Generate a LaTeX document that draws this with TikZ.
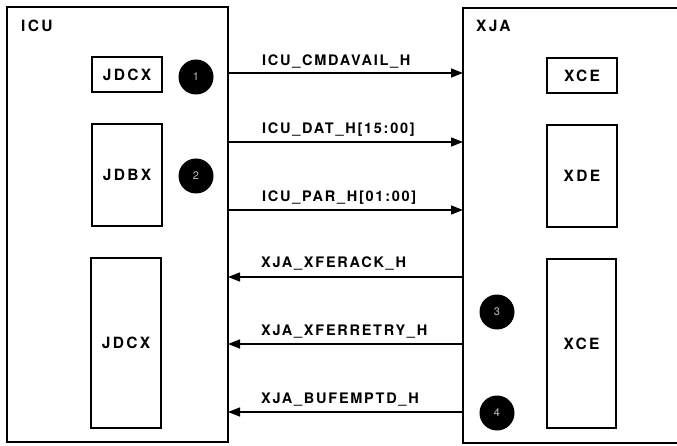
\documentclass[tikz,border=0pt]{standalone}
\usepackage{fontspec}
\setmainfont{TeX Gyre Heros}
\newfontfamily\siglbl{TeX Gyre Heros}[LetterSpace=12]
\newfontfamily\boxlbl{TeX Gyre Heros}[LetterSpace=15]
\usetikzlibrary{arrows.meta}
\begin{document}
\begin{tikzpicture}[x=1pt,y=-1pt,
  outerbox/.style={draw,line width=2.4pt,rectangle,inner sep=0pt,outer sep=0pt},
  innerbox/.style={draw,line width=1.9pt,rectangle,inner sep=0pt,outer sep=0pt,minimum width=70pt,
    font=\boxlbl\bfseries\fontsize{15.5}{16}\selectfont},
  title/.style={anchor=base west,inner sep=0pt,font=\boxlbl\bfseries\fontsize{15.5}{16}\selectfont},
  dot/.style={circle,fill=black,minimum size=35pt,inner sep=0pt,text=white!75!black,
    font=\fontsize{11}{12}\selectfont},
  sig/.style={line width=1.4pt,-{Triangle[length=12pt,width=9pt]}},
  siglabel/.style={anchor=base west,inner sep=0pt,font=\siglbl\bfseries\fontsize{14.5}{15}\selectfont}]
\useasboundingbox (0,0) rectangle (677,446);
\clip (0,0) rectangle (677,446);
\fill[white] (0,0) rectangle (677,446);
% outer boxes
\node[outerbox,minimum width=221pt,minimum height=435pt] (icu) at (117.5,224.5) {};
\node[outerbox,minimum width=250pt,minimum height=435pt] (xja) at (588,225.5) {};
\node[title] (icut) at (21,32) {ICU};
\node[title] (xjat) at (476,32) {XJA};
% ICU inner
\node[innerbox,minimum height=35pt] (jdcxa) at (127,74.5) {JDCX};
\node[innerbox,minimum height=102pt] (jdbx) at (127,175) {JDBX};
\node[innerbox,minimum height=170pt] (jdcxb) at (126,343) {JDCX};
% XJA inner
\node[innerbox,minimum height=35pt] (xcea) at (582,75.5) {XCE};
\node[innerbox,minimum height=102pt] (xde) at (582,176) {XDE};
\node[innerbox,minimum height=169pt,minimum width=69pt] (xceb) at (581.5,343.5) {XCE};
% dots
\node[dot] (d1) at (196,77) {1};
\node[dot] (d2) at (196,176) {2};
\node[dot] (d3) at (497,312) {3};
\node[dot] (d4) at (497,413) {4};
% signal rows
\coordinate (r1) at (0,73);
\coordinate (r2) at (0,142);
\coordinate (r3) at (0,210);
\coordinate (r4) at (0,277);
\coordinate (r5) at (0,344);
\coordinate (r6) at (0,412);
\draw[sig] (icu.east |- r1) -- (xja.west |- r1);
\draw[sig] (icu.east |- r2) -- (xja.west |- r2);
\draw[sig] (icu.east |- r3) -- (xja.west |- r3);
\draw[sig] (xja.west |- r4) -- (icu.east |- r4);
\draw[sig] (xja.west |- r5) -- (icu.east |- r5);
\draw[sig] (xja.west |- r6) -- (icu.east |- r6);
\node[siglabel] (l1) at (262,66) {ICU\_CMDAVAIL\_H};
\node[siglabel] (l2) at (262,134) {ICU\_DAT\_H[15:00]};
\node[siglabel] (l3) at (262,202) {ICU\_PAR\_H[01:00]};
\node[siglabel] (l4) at (261,268) {XJA\_XFERACK\_H};
\node[siglabel] (l5) at (261,335) {XJA\_XFERRETRY\_H};
\node[siglabel] (l6) at (261,403) {XJA\_BUFEMPTD\_H};
\end{tikzpicture}
\end{document}
